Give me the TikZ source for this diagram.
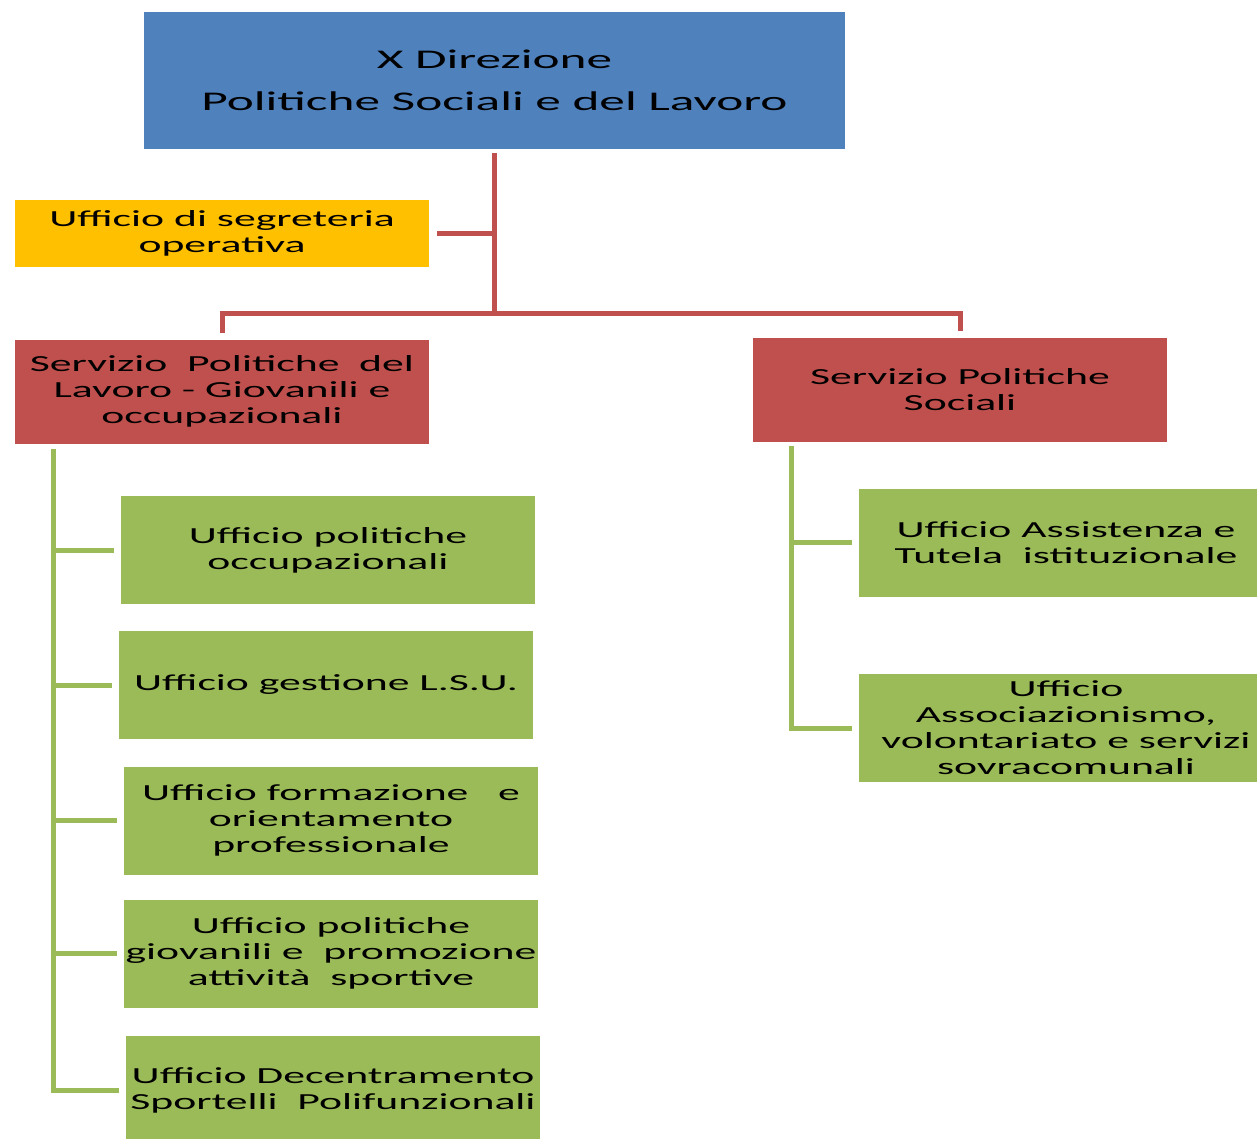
\documentclass[tikz,border=0pt]{standalone}
\usepackage{fontspec}
\setmainfont{Carlito}[FakeStretch=1.9]
\usetikzlibrary{positioning, calc}
\definecolor{dirblue}{HTML}{4F81BD}
\definecolor{servred}{HTML}{C0504D}
\definecolor{segyellow}{HTML}{FFC000}
\definecolor{offgreen}{HTML}{9BBB59}
\begin{document}
\begin{tikzpicture}[x=0.5pt, y=-0.5pt,
    box/.style={inner sep=0pt, align=center, minimum width=207pt, font=\fontsize{11.5}{13}\selectfont},
    office/.style={box, fill=offgreen, minimum height=54pt},
    servizio/.style={box, fill=servred, minimum height=52pt},
    redline/.style={draw=servred, line width=2.5pt},
    greenline/.style={draw=offgreen, line width=2.5pt}]
\useasboundingbox (0, 0) rectangle (1257, 1139);
\node [box, fill=dirblue, minimum width=350.5pt, minimum height=68.5pt,
    font=\fontsize{13.5}{21}\selectfont] (direzione) at (494.5, 80.5)
    {X Direzione\\Politiche Sociali e del Lavoro};
\node [box, fill=segyellow, minimum height=33.5pt] (segreteria) at (222, 233.5)
    {Ufficio di segreteria\\operativa};
\node [servizio] (lavoro) at (222, 391.5)
    {Servizio~~Politiche~~del\\Lavoro - Giovanili e\\occupazionali};
\node [servizio] (sociali) at (960, 389.5) {Servizio Politiche\\Sociali};
\node [office] (occupaz) at (328, 550) {Ufficio politiche\\occupazionali};
\node [office] (lsu) at (326, 685) {Ufficio gestione L.S.U.};
\node [office] (formaz) at (331, 820.5) {Ufficio formazione~~~e\\orientamento\\professionale};
\node [office] (giovani) at (331, 953.5) {Ufficio politiche\\giovanili e~~promozione\\attività~~sportive};
\node [office] (decentr) at (333, 1090) {Ufficio Decentramento\\Sportelli~~Polifunzionali};
\node [office] (assist) at (1066, 542.5) {Ufficio Assistenza e\\Tutela~~istituzionale};
\node [office] (assoc) at (1066, 728) {Ufficio\\Associazionismo,\\volontariato e servizi\\sovracomunali};
\coordinate (hub) at (494.5, 313);
\draw[redline] ([yshift=-2pt]direzione.south) -- (hub);
\draw[redline] ([xshift=4pt]segreteria.east) -- (segreteria.east -| hub);
\draw[redline] ([yshift=3pt]lavoro.north) |- (hub) -| ([yshift=3pt]sociali.north);
\coordinate (lspine) at ([xshift=19.5pt, yshift=-2.5pt]lavoro.south west);
\draw[greenline] (lspine) |- ([xshift=-3.5pt]decentr.west);
\foreach \u in {occupaz, lsu, formaz, giovani}
    \draw[greenline] (lspine |- \u.west) -- ([xshift=-3.5pt]\u.west);
\coordinate (rspine) at ([xshift=19.5pt, yshift=-2pt]sociali.south west);
\draw[greenline] (rspine) |- ([xshift=-3.5pt]assoc.west);
\draw[greenline] (rspine |- assist.west) -- ([xshift=-3.5pt]assist.west);
\end{tikzpicture}
\end{document}
